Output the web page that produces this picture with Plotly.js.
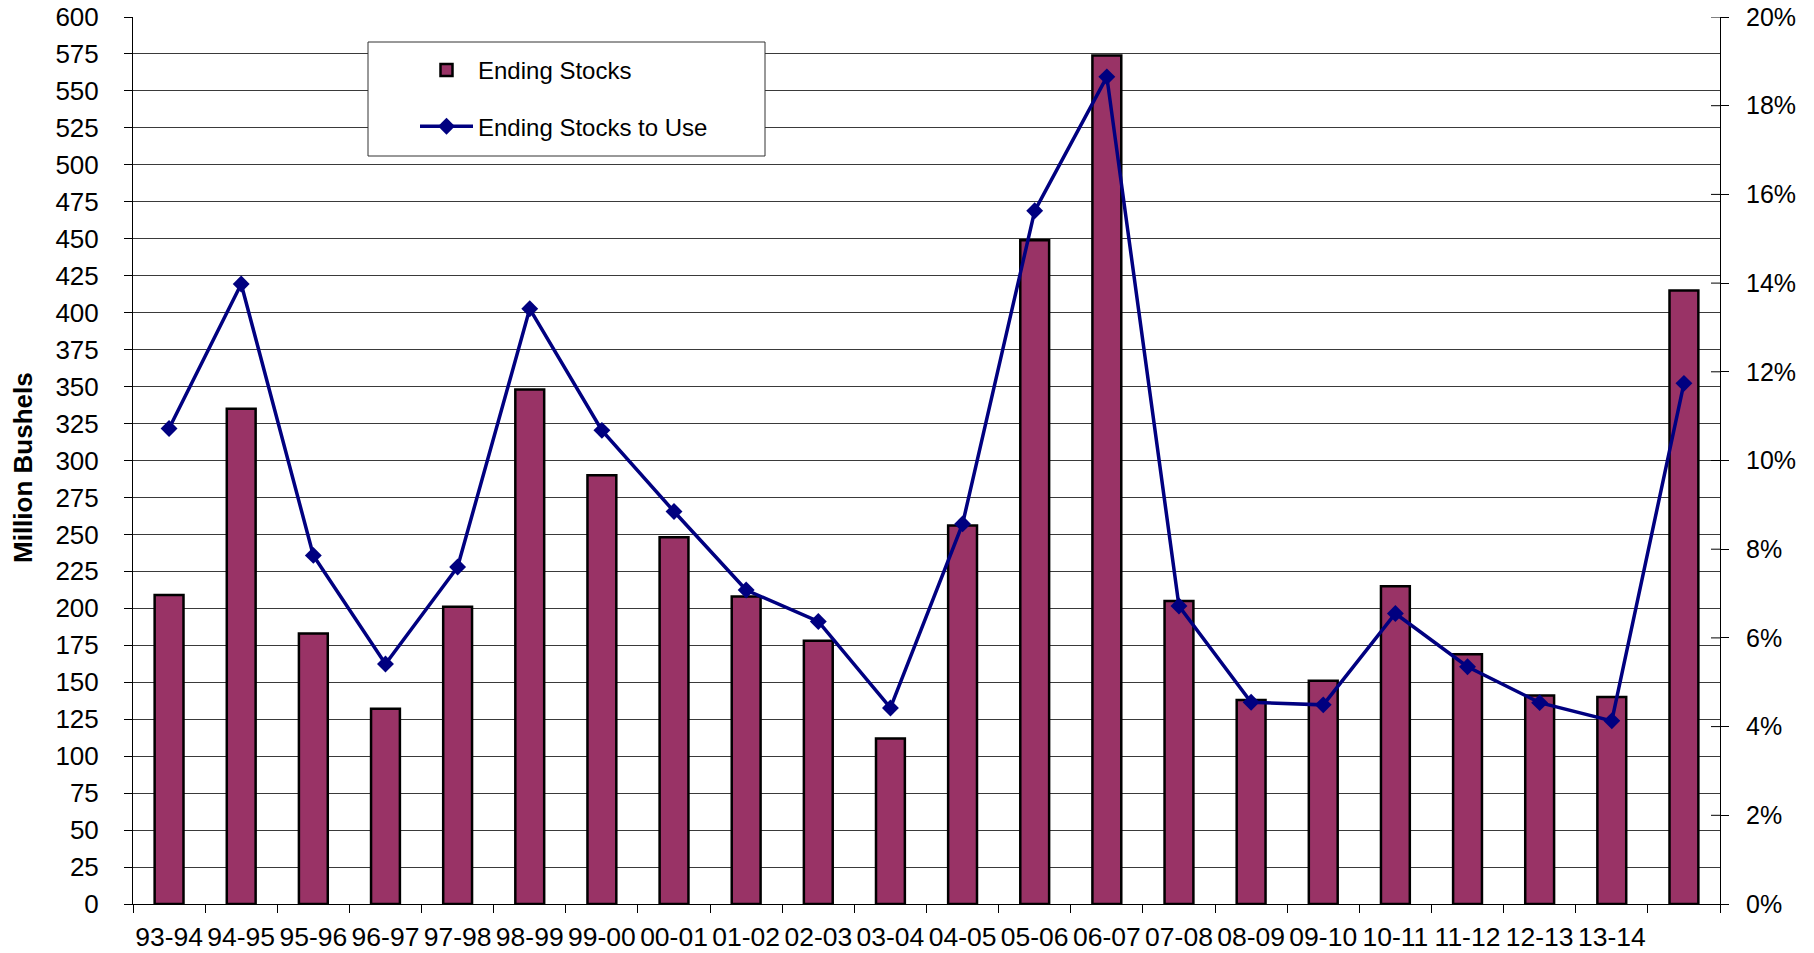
<!DOCTYPE html>
<html>
<head>
<meta charset="utf-8">
<script src="https://cdn.plot.ly/plotly-3.0.1.min.js"></script>
<style>
  html, body { margin: 0; padding: 0; background: #ffffff; }
  #chart { width: 1814px; height: 953px; }
</style>
</head>
<body>
<div id="chart"></div>
<script>
// Marketing years (last category has no label in the source)
const categories = ['93-94','94-95','95-96','96-97','97-98','98-99','99-00','00-01','01-02','02-03','03-04',
                    '04-05','05-06','06-07','07-08','08-09','09-10','10-11','11-12','12-13','13-14',' '];
// Ending stocks, million bushels
const endingStocks = [209, 335, 183, 132, 201, 348, 290, 248, 208, 178, 112,
                      256, 449, 574, 205, 138, 151, 215, 169, 141, 140, 415];
// Ending stocks to use, percent
const stocksToUse = [10.72, 13.98, 7.86, 5.41, 7.60, 13.42, 10.68, 8.85, 7.08, 6.37, 4.42,
                     8.57, 15.63, 18.65, 6.72, 4.55, 4.49, 6.55, 5.35, 4.54, 4.13, 11.74];
const leftTicks = [0, 600, 25];
const rightTicks = [0, 20, 2];
const yTitle = 'Million Bushels';

const FONT = 'Liberation Sans, Arial, sans-serif';

const traces = [
  {
    type: 'bar',
    name: 'Ending Stocks',
    x: categories,
    y: endingStocks,
    marker: { color: '#993366', line: { color: '#000000', width: 2.5 } },
    legendgroup: 'a',
    hoverinfo: 'x+y'
  },
  {
    type: 'scatter',
    mode: 'lines+markers',
    name: 'Ending Stocks to Use',
    x: categories,
    y: stocksToUse,
    yaxis: 'y2',
    line: { color: '#000080', width: 3.5 },
    marker: { symbol: 'diamond', size: 13, color: '#000080' },
    legendgroup: 'b'
  }
];

const W = 1814, H = 953;
const L = 133, R = 94, T = 17, B = 49;
const pw = W - L - R, ph = H - T - B;
const px = v => (v - L) / pw;
const py = v => (H - B - v) / ph;

const layout = {
  width: W, height: H,
  margin: { l: L, r: R, t: T, b: B, pad: 0 },
  paper_bgcolor: '#ffffff',
  plot_bgcolor: '#ffffff',
  font: { family: FONT, color: '#000000', size: 24 },
  showlegend: true,
  bargap: 0.6,
  xaxis: {
    type: 'category',
    tickson: 'boundaries',
    ticks: 'outside',
    ticklen: 8,
    tickcolor: '#000000',
    tickwidth: 1,
    showline: true,
    linecolor: '#000000',
    linewidth: 1,
    showgrid: false,
    tickfont: { size: 26.5, family: FONT, color: '#000000' },
    ticklabelstandoff: 9,
    tickangle: 0,
    range: [-0.5, 21.5],
    fixedrange: true
  },
  yaxis: {
    range: [leftTicks[0], leftTicks[1]],
    dtick: leftTicks[2],
    tick0: 0,
    ticks: 'outside',
    ticklen: 8,
    tickcolor: '#000000',
    showline: true,
    linecolor: '#000000',
    linewidth: 1,
    showgrid: true,
    gridcolor: '#3a3a3a',
    gridwidth: 1,
    zeroline: false,
    tickfont: { size: 26, family: FONT, color: '#000000' },
    ticklabelstandoff: 20,
    fixedrange: true
  },
  yaxis2: {
    overlaying: 'y',
    side: 'right',
    range: [rightTicks[0], rightTicks[1]],
    dtick: rightTicks[2],
    tick0: 0,
    ticksuffix: '%',
    ticks: 'outside',
    ticklen: 8,
    tickcolor: '#000000',
    showline: true,
    linecolor: '#000000',
    linewidth: 1,
    showgrid: false,
    zeroline: false,
    tickfont: { size: 25, family: FONT, color: '#000000' },
    ticklabelstandoff: 12,
    fixedrange: true
  },
  legend: {
    x: px(415), xanchor: 'left',
    y: py(48), yanchor: 'top',
    bgcolor: 'rgba(0,0,0,0)',
    borderwidth: 0,
    font: { size: 24, family: FONT, color: '#000000' },
    itemwidth: 53,
    tracegroupgap: 22,
    traceorder: 'grouped'
  },
  annotations: [
    {
      text: '<b>' + yTitle + '</b>',
      xref: 'paper', yref: 'paper',
      x: px(23), y: py(467),
      xanchor: 'center', yanchor: 'middle',
      textangle: -90,
      showarrow: false,
      font: { size: 26, family: FONT, color: '#000000' }
    }
  ],
  shapes: [
    {
      type: 'rect', xref: 'paper', yref: 'paper',
      x0: px(368), x1: px(765), y0: py(156), y1: py(42),
      fillcolor: '#ffffff',
      line: { color: '#333333', width: 1 },
      layer: 'above'
    },
    // inner half of the crossing ticks on the right axis
    ...Array.from({length: 10}, (_, i) => ({
      type: 'line', xref: 'paper', yref: 'y2',
      x0: 1 - 9 / pw, x1: 1, y0: (i + 1) * rightTicks[2], y1: (i + 1) * rightTicks[2],
      line: { color: '#000000', width: 1 }, layer: 'above'
    }))
  ]
};

Plotly.newPlot('chart', traces, layout, { displayModeBar: false, staticPlot: true });
</script>
</body>
</html>
